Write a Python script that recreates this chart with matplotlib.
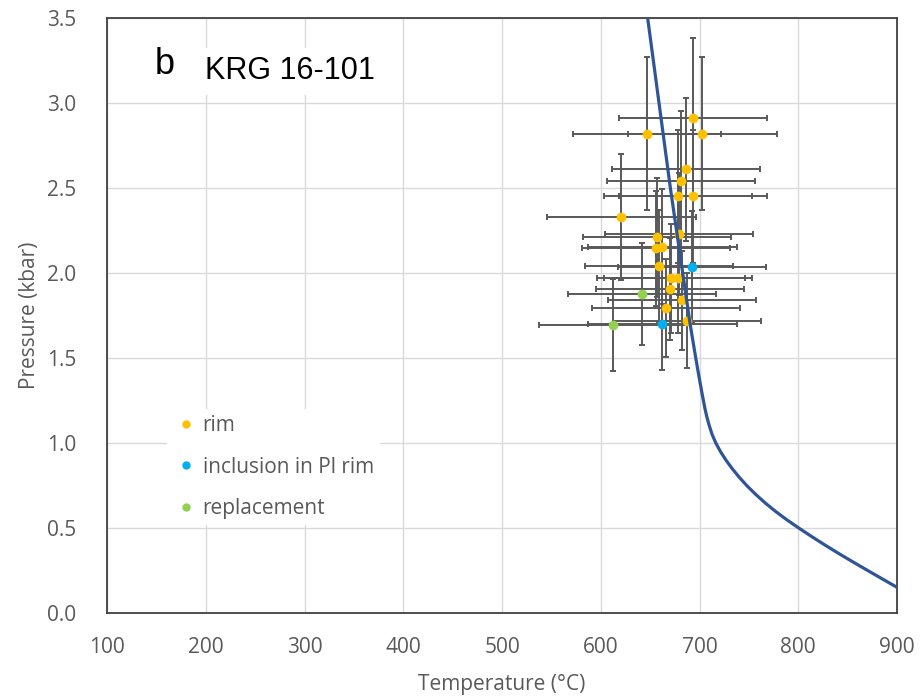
import numpy as np
import matplotlib
matplotlib.use("Agg")
import matplotlib.pyplot as plt
from matplotlib.lines import Line2D

# rim analyses
rim_t = [693, 647, 703, 686, 681, 678, 693, 621, 679, 657, 656, 662.5, 659, 671, 678.5, 670, 682, 666, 687]
rim_p = [2.91, 2.82, 2.82, 2.61, 2.54, 2.45, 2.45, 2.33, 2.23, 2.21, 2.145, 2.155, 2.04, 1.97, 1.97, 1.905, 1.84, 1.795, 1.72]
rim_perr = [0.47, 0.45, 0.45, 0.42, 0.41, 0.39, 0.39, 0.37, 0.36, 0.35, 0.34, 0.34, 0.33, 0.32, 0.32, 0.30, 0.29, 0.29, 0.28]

# inclusions in Pl rim
inc_t = [692.5, 662.5]
inc_p = [2.037, 1.698]
inc_perr = [0.33, 0.27]

# replacement
rep_t = [642, 612]
rep_p = [1.875, 1.694]
rep_perr = [0.30, 0.27]

T_ERR = 75

# reaction curve
curve_t = [647.5, 659, 670.5, 683, 690.5, 696.2, 699.2, 702.3, 705.6, 707.6, 710, 712.8, 716.5,
           721.2, 726.7, 733, 740, 747.8, 756.5, 766, 776.5, 788, 800.5, 813.5, 827, 841,
           855.5, 870.3, 885.3, 900]
curve_p = [3.5, 3.0, 2.5, 2.0, 1.7, 1.5, 1.4, 1.3, 1.2, 1.15, 1.1, 1.05, 1.0,
           0.95, 0.9, 0.85, 0.8, 0.75, 0.7, 0.65, 0.6, 0.55, 0.5, 0.45, 0.4, 0.35,
           0.3, 0.25, 0.2, 0.151]

C_RIM = "#ffc000"
C_INC = "#00b0f0"
C_REP = "#92d050"
C_BAR = "#595959"
C_TXT = "#595959"

plt.rcParams["font.family"] = ["Open Sans", "DejaVu Sans"]

fig = plt.figure(figsize=(9.22, 6.99), dpi=100)
ax = fig.add_axes([107 / 922, 1 - 613 / 699, 790 / 922, 595 / 699])

for t, p, perr, col in [(rim_t, rim_p, rim_perr, C_RIM),
                        (inc_t, inc_p, inc_perr, C_INC),
                        (rep_t, rep_p, rep_perr, C_REP)]:
    ax.errorbar(t, p, xerr=T_ERR, yerr=perr, fmt="none", ecolor=C_BAR,
                elinewidth=1.4, capsize=2.3, capthick=1.4, zorder=2)
    ax.plot(t, p, "o", color=col, markersize=7, markeredgewidth=0, zorder=3)

ax.plot(curve_t, curve_p, color="#2f5597", lw=2.3, zorder=4,
        solid_capstyle="butt", solid_joinstyle="round")

ax.set_xlim(100, 900)
ax.set_ylim(0, 3.5)
ax.set_xticks(np.arange(100, 901, 100))
ax.set_yticks(np.arange(0, 3.51, 0.5))
ax.yaxis.set_major_formatter(matplotlib.ticker.FormatStrFormatter("%.1f"))
ax.grid(True, color="#d9d9d9", lw=1)
ax.set_axisbelow(True)
ax.tick_params(length=0, labelsize=15, labelcolor=C_TXT)
ax.tick_params(axis="y", pad=22)
ax.tick_params(axis="x", pad=17)
for s in ax.spines.values():
    s.set_color("#404040")
    s.set_linewidth(1.3)

ax.set_xlabel("Temperature (°C)", fontsize=15, color=C_TXT, labelpad=12)
ax.set_ylabel("Pressure (kbar)", fontsize=15, color=C_TXT, labelpad=5)

box = dict(facecolor="white", edgecolor="none", pad=6)
ax.text(0.061, 0.906, "b", transform=ax.transAxes, fontsize=26,
        family="Liberation Sans", va="baseline", bbox=box)
ax.text(0.124, 0.897, "KRG 16-101", transform=ax.transAxes, fontsize=22,
        family="Liberation Sans", va="baseline", bbox=box)

handles = [Line2D([], [], ls="none", marker="o", markersize=6, markeredgewidth=0, color=c)
           for c in (C_RIM, C_INC, C_REP)]
leg = ax.legend(handles, ["rim", "inclusion in Pl rim", "replacement"],
                loc="center left", bbox_to_anchor=(0.063, 0.245), frameon=True,
                fontsize=15, labelspacing=0.98, handletextpad=0.2, handlelength=1.2,
                borderpad=0.3, fancybox=False)
leg.get_frame().set_edgecolor("none")
leg.get_frame().set_facecolor("white")
leg.get_frame().set_alpha(1)
for txt in leg.get_texts():
    txt.set_color(C_TXT)

fig.savefig("out.png", dpi=100)
